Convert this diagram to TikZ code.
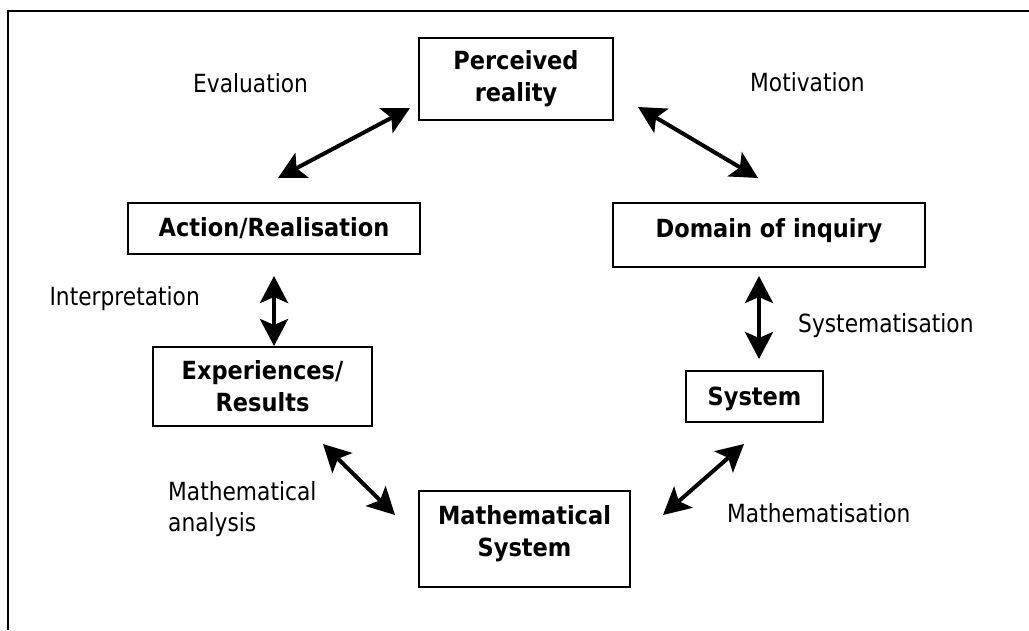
\documentclass[tikz,border=0pt]{standalone}
\usepackage{fontspec}
\setmainfont[FakeStretch=0.87,BoldFeatures={FakeStretch=0.9}]{DejaVu Sans}
\usepackage{tikz}
\usetikzlibrary{arrows.meta}
\newcommand{\padbelow}[1]{\rule[-#1]{0pt}{#1}}
\tikzset{
  node-box/.style={draw,line width=1.5pt,align=center,inner sep=0pt,
    font=\bfseries\fontsize{25}{32}\selectfont},
  node-label/.style={inner sep=0pt,font=\fontsize{25}{31}\selectfont},
  arrow-dbl/.style={{Stealth[length=27pt,width=28pt,inset=6pt]}-{Stealth[length=27pt,width=28pt,inset=6pt]},
    line width=4pt},
  frame/.style={line width=1.5pt},
}
\begin{document}
\begin{tikzpicture}[x=1pt,y=-1pt]
  \useasboundingbox (0,0) rectangle (1029,630);
  \draw[frame] (8,630) -- (8,11) -- (1029,11);

  % boxes
  \node[node-box,minimum width=194pt,minimum height=82pt] (reality) at (516,79) {Perceived\\reality};
  \node[node-box,minimum width=292pt,minimum height=51pt] (action) at (274,228.5) {Action/Realisation};
  \node[node-box,minimum width=312pt,minimum height=64pt] (domain) at (769,235) {Domain of inquiry\padbelow{15pt}};
  \node[node-box,minimum width=219pt,minimum height=79pt] (results) at (262.5,386.5) {Experiences/\\Results};
  \node[node-box,minimum width=137pt,minimum height=51pt,text depth=0pt] (system) at (754.5,396.5) {System};
  \node[node-box,minimum width=211pt,minimum height=96pt] (mathsys) at (524.5,539) {Mathematical\\System\padbelow{16pt}};

  % arrow ends
  \coordinate (eval-a) at (410,108);   \coordinate (eval-b) at (278,178);
  \coordinate (motiv-a) at (638,107);  \coordinate (motiv-b) at (758,178);
  \coordinate (interp-a) at (274,276); \coordinate (interp-b) at (274,346);
  \coordinate (syst-a) at (759,276);   \coordinate (syst-b) at (759,359);
  \coordinate (anal-a) at (323,444);   \coordinate (anal-b) at (395,515);
  \coordinate (mathm-a) at (744,444);  \coordinate (mathm-b) at (663,515);
  \foreach \a/\b in {eval-a/eval-b, motiv-a/motiv-b, interp-a/interp-b,
                     syst-a/syst-b, anal-a/anal-b, mathm-a/mathm-b}
    \draw[arrow-dbl] (\a) -- (\b);

  % labels
  \node[node-label,anchor=base west] (evaluation) at (193,92) {Evaluation};
  \node[node-label,anchor=base west] (motivation) at (750,91) {Motivation};
  \node[node-label,anchor=base east] (interpretation) at (200,305) {Interpretation};
  \node[node-label,anchor=base west] (systematisation) at (798,332) {Systematisation};
  \node[node-label,anchor=north west,align=left] (analysis) at (168,481) {Mathematical\\analysis};
  \node[node-label,anchor=base west] (mathematisation) at (727,522) {Mathematisation};
\end{tikzpicture}
\end{document}
